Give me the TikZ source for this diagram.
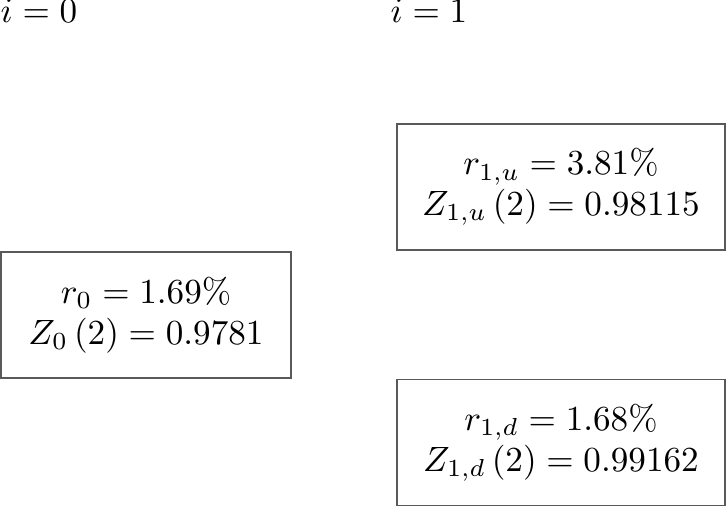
\documentclass[tikz,border=0pt]{standalone}
\usepackage{amsmath}
\usepackage{amssymb}
\usepackage{tikz}
\usetikzlibrary{positioning}
\tikzset{
	rate node/.style={rectangle,draw=black!65,line width=0.4pt,align=center,inner sep=0pt,minimum height=1.26cm,font=\fontsize{9.7}{11.6}\selectfont},
	step label/.style={anchor=base west,inner sep=0pt,font=\fontsize{9.7}{11.6}\selectfont}
}

\begin{document}
\begin{tikzpicture}
	\useasboundingbox (0,0) rectangle (7.26,5.08);
	\node [step label] (t0) at (0,4.85) {$i=0$};
	\node [step label] (t1) at (3.9,4.85) {$i=1$};
	\node [rate node,minimum width=2.9cm] (r0) at (1.46,1.93) {$r_0=1.69\%$\\ $Z_0\left(2\right)=0.9781$};
	\node [rate node,minimum width=3.28cm] (r1u) at (5.61,3.21) {$r_{1,u}=3.81\%$\\ $Z_{1,u}\left(2\right)=0.98115$};
	\node [rate node,minimum width=3.28cm] (r1d) at (5.61,0.655) {$r_{1,d}=1.68\%$\\ $Z_{1,d}\left(2\right)=0.99162$};
\end{tikzpicture}
\end{document}
